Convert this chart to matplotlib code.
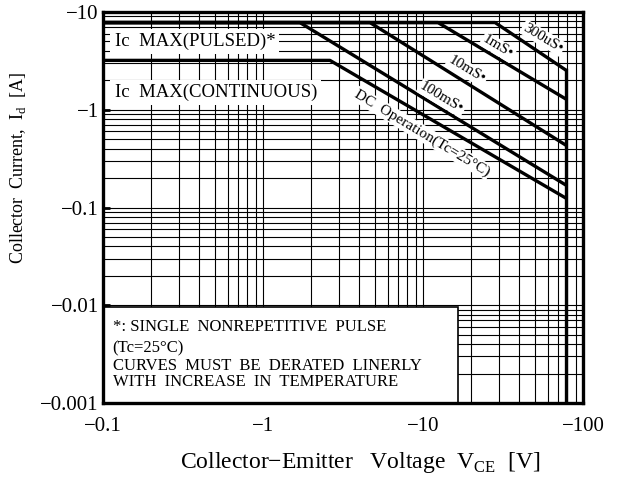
import numpy as np
import matplotlib
matplotlib.use('Agg')
import matplotlib.pyplot as plt
from matplotlib.patches import Rectangle

plt.rcParams['font.family'] = ['Liberation Serif', 'DejaVu Serif']
plt.rcParams['mathtext.fontset'] = 'custom'
plt.rcParams['mathtext.rm'] = 'Liberation Serif'

# SOA limits (magnitudes, plotted as negative labels)
v_end = 78.0
ic_pulsed = 7.8
ic_cont = 3.2
pulse_names = ['300uS', '1mS', '10mS', '100mS']
pulse_vknee = [28.2, 12.4, 4.66, 1.70]
pulse_iend = [2.55, 1.29, 0.435, 0.170]
dc_vknee = 2.62
dc_iend = 0.125

x_ticks = [0.1, 1, 10, 100]
x_labels = ['\u22120.1', '\u22121', '\u221210', '\u2212100']
y_ticks = [0.001, 0.01, 0.1, 1, 10]
y_labels = ['\u22120.001', '\u22120.01', '\u22120.1', '\u22121', '\u221210']

fig = plt.figure(figsize=(6.25, 4.8), dpi=100)
ax = fig.add_axes([0.1648, 0.1604, 0.768, 0.8146])
ax.set_xscale('log')
ax.set_yscale('log')
ax.set_xlim(0.1, 100)
ax.set_ylim(0.001, 10)

# grid
ax.grid(True, which='both', color='black', lw=0.8, zorder=1)
ax.set_axisbelow(True)

lw = 2.4
# pulsed curves
for v_k, i_e in zip(pulse_vknee, pulse_iend):
    ax.plot([0.1, v_k, v_end], [ic_pulsed, ic_pulsed, i_e], color='black', lw=lw, zorder=3)
# DC curve
ax.plot([0.1, dc_vknee, v_end], [ic_cont, ic_cont, dc_iend], color='black', lw=lw, zorder=3)
# voltage limit
ax.plot([v_end, v_end], [pulse_iend[0], 0.001], color='black', lw=lw, zorder=3)

wbox = dict(facecolor='white', edgecolor='none', pad=1.0)
fs = 13.5
ax.text(0.118, 5.0, 'Ic  MAX(PULSED)*', fontsize=fs, va='center', ha='left', zorder=4,
        bbox=dict(facecolor='white', edgecolor='none', pad=3))
ax.text(0.118, 1.5, 'Ic  MAX(CONTINUOUS)', fontsize=fs, va='center', ha='left', zorder=4,
        bbox=dict(facecolor='white', edgecolor='none', pad=3))

ang = -31
lab_pos = [(56.2, 5.42), (29.4, 4.38), (18.8, 2.55), (13.1, 1.32)]
for name, (xv, yv) in zip(pulse_names, lab_pos):
    ax.text(xv, yv, name + '\u2022', fontsize=11, rotation=ang, rotation_mode='anchor',
            ha='center', va='center', zorder=4, bbox=wbox)
ax.text(9.86, 0.578, 'DC  Operation(Tc=25\u00b0C)', fontsize=11, rotation=ang,
        rotation_mode='anchor', ha='center', va='center', zorder=4, bbox=wbox)

# note box
ax.add_patch(Rectangle((0.1, 0.001), 16.5 - 0.1, 0.0097 - 0.001, facecolor='white',
                       edgecolor='black', lw=1.2, zorder=4))
note = ['*: SINGLE  NONREPETITIVE  PULSE', '(Tc=25\u00b0C)',
        'CURVES  MUST  BE  DERATED  LINERLY', 'WITH  INCREASE  IN  TEMPERATURE']
note_y = [0.0060, 0.0036, 0.00240, 0.00165]
for t, yv in zip(note, note_y):
    ax.text(0.115, yv, t, fontsize=12, va='center', ha='left', zorder=5)

ax.set_xticks(x_ticks)
ax.set_xticklabels(x_labels, fontsize=15)
ax.set_yticks(y_ticks)
ax.set_yticklabels(y_labels, fontsize=15)
ax.tick_params(which='major', direction='in', length=5, width=2)
ax.tick_params(axis='x', pad=10)
ax.tick_params(axis='y', pad=3)
ax.tick_params(which='minor', length=0)
for s in ax.spines.values():
    s.set_linewidth(2.4)
    s.set_zorder(6)

ax.set_xlabel('Collector\u2212Emitter   Voltage  V$_{\\mathrm{CE}}$  [V]', fontsize=17,
              va='center', ha='center')
ax.set_ylabel('Collector  Current,  I$_{\\mathrm{d}}$  [A]', fontsize=13,
              va='center', ha='center')
ax.xaxis.set_label_coords(0.535, -0.153)
ax.yaxis.set_label_coords(-0.177, 0.601)

plt.savefig('out.png', dpi=100)
